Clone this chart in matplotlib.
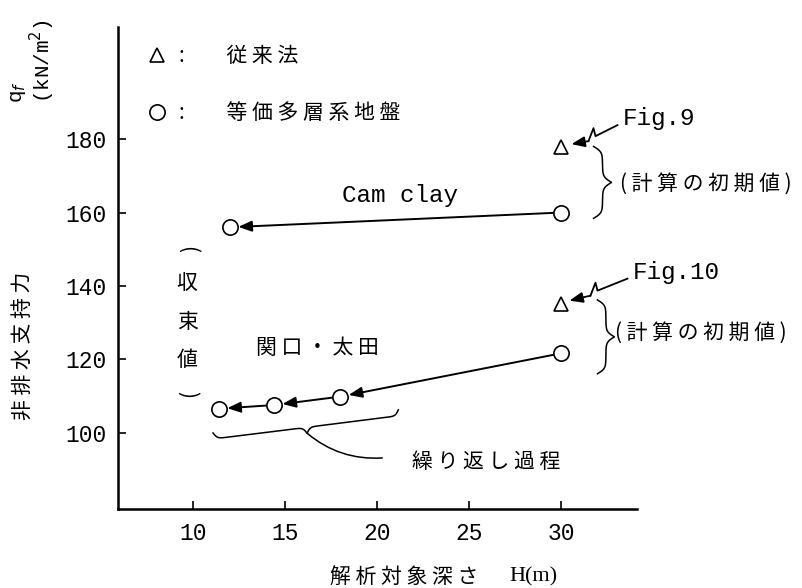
import numpy as np
import matplotlib
matplotlib.use('Agg')
import matplotlib.pyplot as plt
from matplotlib.patches import ArrowStyle

plt.rcParams['font.family'] = ['Liberation Mono', 'Noto Sans CJK JP']
JP = ['Noto Sans CJK JP', 'DejaVu Sans']

# --- values ---
conv_h = [30, 30]                    # 従来法 (triangles)
conv_q = [177.8, 135.2]
cam_h = [30, 12.0]                   # Cam clay: initial -> converged
cam_q = [160.0, 156.0]
sek_h = [30, 18.0, 14.4, 11.4]       # 関口・太田: iterations
sek_q = [121.7, 109.9, 107.6, 106.6]

x_ticks = [10, 15, 20, 25, 30]
y_ticks = [100, 120, 140, 160, 180]
legend_labels = [':\u3000\u3000従 来 法', ':\u3000\u3000等 価 多 層 系 地 盤']

W, H = 803, 588
fig = plt.figure(figsize=(W / 100, H / 100), dpi=100)
ax = fig.add_axes([118 / W, 1 - 509 / H, (637 - 118) / W, (509 - 27) / H])
ax.set_xlim(5.92, 34.1)
ax.set_ylim(79.3, 210.5)

for s in ['top', 'right']:
    ax.spines[s].set_visible(False)
for s in ['left', 'bottom']:
    ax.spines[s].set_linewidth(1.8)
ax.set_xticks(x_ticks)
ax.set_yticks(y_ticks)
ax.tick_params(direction='in', length=6, width=1.2, labelsize=16.5)
ax.tick_params(axis='x', pad=9)
ax.tick_params(axis='y', pad=8)

mk = dict(ls='none', mfc='white', mec='black', mew=1.2, zorder=4)
tri, = ax.plot(conv_h, conv_q, marker='^', ms=10, **mk)
circ, = ax.plot(cam_h, cam_q, marker='o', ms=11, **mk)
ax.plot(sek_h, sek_q, marker='o', ms=11, **mk)

head = ArrowStyle('-|>', head_length=0.5, head_width=0.2)
arr = dict(arrowstyle=head, color='black', lw=1.4, mutation_scale=16,
           shrinkA=6, shrinkB=6)


def chain(h, q):
    for i in range(len(h) - 1):
        ax.annotate('', xy=(h[i + 1], q[i + 1]), xytext=(h[i], q[i]),
                    arrowprops=arr)


chain(cam_h, cam_q)
chain(sek_h, sek_q)


def brace(p0, p1, depth, lw=1.1):
    """curly brace from p0 to p1 (data), cusp pointing right of p0->p1 by depth px"""
    a = ax.transData.transform(p0)
    b = ax.transData.transform(p1)
    v = b - a
    L = np.hypot(*v)
    u = v / L
    n = np.array([u[1], -u[0]])
    e = depth * 0.3
    t = np.linspace(0, L, 401)
    q = np.minimum(t, L - t)
    r = L / 2 - q
    d = depth / 2 * np.tanh(q / e) + depth / 2 * (1 - np.tanh(r / e))
    pts = a + np.outer(t, u) + np.outer(d, n)
    dat = ax.transData.inverted().transform(pts)
    ax.plot(dat[:, 0], dat[:, 1], color='black', lw=lw)
    return ax.transData.inverted().transform(a + u * L / 2 + n * depth)


def zigzag(point, offsets):
    base = ax.transData.transform(point)
    pts = base + np.array(offsets, dtype=float) * [1, -1]
    dat = ax.transData.inverted().transform(pts)
    ax.plot(dat[:-1, 0], dat[:-1, 1], color='black', lw=1.3)
    ax.annotate('', xy=dat[-1], xytext=dat[-2],
                arrowprops=dict(arr, shrinkA=0, shrinkB=0, lw=1.3))


# Fig.9 / Fig.10 pointers
zigzag((conv_h[0], conv_q[0]), [(56, -22), (34, -11), (32, -19), (27, -6), (10, -3)])
zigzag((conv_h[1], conv_q[1]), [(66, -25), (36, -13), (34, -21), (29, -8), (8, -3)])
ax.text(33.31, 185.7, 'Fig.9', fontsize=17.5, va='center')
ax.text(33.85, 143.8, 'Fig.10', fontsize=17.5, va='center')

# braces for initial values
brace((31.74, 158.4), (31.74, 178.0), 18)
brace((31.95, 116.1), (31.95, 136.2), 17)
ax.text(33.2, 167.8, '( 計 算 の 初 期 値 )', family=JP, fontsize=15, va='center')
ax.text(32.88, 127.3, '( 計 算 の 初 期 値 )', family=JP, fontsize=15, va='center')

# iteration brace + leader
tip = brace((11.08, 100.0), (21.14, 106.3), 12)
ax.annotate('', xy=(20.27, 93.2), xytext=tip,
            arrowprops=dict(arrowstyle='-', color='black', lw=1.1,
                            shrinkA=0, shrinkB=0, connectionstyle='arc3,rad=0.2'))
ax.text(21.9, 92.2, '繰 り 返 し 過 程', family=JP, fontsize=15, va='center')

ax.text(18.09, 164.5, 'Cam clay', fontsize=17.5, va='center')
ax.text(13.42, 123.2, '関 口 ・ 太 田', family=JP, fontsize=15, va='center')

# vertical (収束値)
for ch, yy, rot in zip(['(', '収', '束', '値', ')'],
                       [149.8, 140.8, 130.2, 119.9, 110.4],
                       [-90, 0, 0, 0, -90]):
    ax.text(9.67, yy, ch, family=JP, fontsize=15, ha='center', va='center',
            rotation=rot)

ax.legend([tri, circ], legend_labels, loc='upper left',
          bbox_to_anchor=(0.0551, 0.963), frameon=False, numpoints=1,
          handlelength=1.0, handletextpad=0.56, labelspacing=1.69,
          borderpad=0, borderaxespad=0, prop=dict(family=JP, size=15))

# axis labels
fig.text(23 / W, 1 - 346 / H, '非 排 水 支 持 力', family=JP, fontsize=15,
         rotation=90, ha='center', va='center')
fig.text(33 / W, 1 - 103 / H, 'q$_f$\n(kN/m$^2$)', fontsize=15, rotation=90,
         ha='center', va='bottom', multialignment='left', linespacing=1.0)
fig.text(330 / W, 1 - 577 / H, '解 析 対 象 深 さ', family=JP, fontsize=15,
         va='center')
fig.text(509 / W, 1 - 577 / H, 'H(m)', family='Liberation Serif', fontsize=16,
         va='center')

fig.savefig('out.png', dpi=100)
